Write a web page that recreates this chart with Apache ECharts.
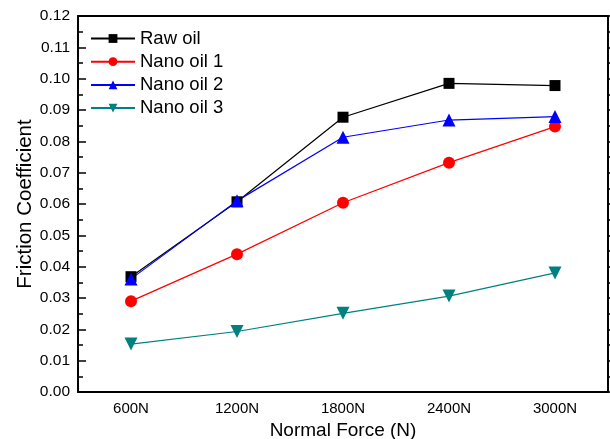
<!DOCTYPE html>
<html>
<head>
<meta charset="utf-8">
<script src="https://cdn.jsdelivr.net/npm/echarts@6/dist/echarts.min.js"></script>
<style>
  html, body { margin: 0; padding: 0; background: #fff; }
  #chart { width: 610px; height: 439px; }
</style>
</head>
<body>
<div id="chart"></div>
<script>
var categories = ['600N', '1200N', '1800N', '2400N', '3000N'];
var rawOil = [0.0368, 0.0607, 0.0877, 0.0985, 0.0978];
var nanoOil1 = [0.0290, 0.0440, 0.0604, 0.0732, 0.0847];
var nanoOil2 = [0.0361, 0.0610, 0.0813, 0.0868, 0.0879];
var nanoOil3 = [0.0153, 0.0193, 0.0251, 0.0306, 0.0380];

var FONT = '"Liberation Sans", Arial, sans-serif';

var chart = echarts.init(document.getElementById('chart'));

// 坐标轴的公共样式
function axisLine() {
    return { show: true, lineStyle: { color: '#000', width: 2 } };
}

var option = {
    animation: false,
    backgroundColor: '#fff',
    grid: { left: 78, right: 2, top: 16, bottom: 47, outerBoundsMode: 'none' },
    legend: {
        orient: 'vertical',
        left: 85,
        top: 24,
        itemWidth: 44,
        itemHeight: 11,
        itemGap: 4.2,
        textStyle: { fontFamily: FONT, fontSize: 18.5, color: '#000', lineHeight: 18 },
        data: ['Raw oil', 'Nano oil 1', 'Nano oil 2', 'Nano oil 3']
    },
    xAxis: [
        {
            type: 'category',
            data: categories,
            position: 'bottom',
            axisLine: axisLine(),
            axisTick: { inside: true, alignWithLabel: true, length: 8, lineStyle: { color: '#000', width: 1.5 } },
            axisLabel: { fontFamily: FONT, fontSize: 15, color: '#000', margin: 9 },
            splitLine: { show: false },
            name: 'Normal Force (N)',
            nameLocation: 'middle',
            nameGap: 29,
            nameMoveOverlap: false,
            nameTextStyle: { fontFamily: FONT, fontSize: 19, color: '#000' }
        },
        {
            // 类别边界处的短刻度
            type: 'category',
            data: categories,
            position: 'bottom',
            axisLine: { show: false },
            axisTick: { inside: true, length: 5, lineStyle: { color: '#000', width: 1.5 } },
            axisLabel: { show: false },
            splitLine: { show: false }
        },
        {
            type: 'category',
            data: categories,
            position: 'top',
            axisLine: axisLine(),
            axisTick: { inside: false, alignWithLabel: true, length: 4, lineStyle: { color: '#000', width: 1.5 } },
            axisLabel: { show: false },
            splitLine: { show: false }
        },
        {
            type: 'category',
            data: categories,
            position: 'top',
            axisLine: { show: false },
            axisTick: { inside: false, length: 3, lineStyle: { color: '#000', width: 1.5 } },
            axisLabel: { show: false },
            splitLine: { show: false }
        }
    ],
    yAxis: [
        {
            type: 'value',
            position: 'left',
            min: 0,
            max: 0.12,
            interval: 0.01,
            axisLine: axisLine(),
            axisTick: { show: true, inside: true, length: 8, lineStyle: { color: '#000', width: 1.5 } },
            minorTick: { show: true, splitNumber: 2, length: 5, lineStyle: { color: '#000', width: 1.5 } },
            axisLabel: {
                fontFamily: FONT, fontSize: 15.5, color: '#000', margin: 8,
                formatter: function (v) { return v.toFixed(2); }
            },
            splitLine: { show: false },
            name: 'Friction Coefficient',
            nameLocation: 'middle',
            nameGap: 42,
            nameMoveOverlap: false,
            nameTextStyle: { fontFamily: FONT, fontSize: 20.5, color: '#000' }
        },
        {
            type: 'value',
            position: 'right',
            min: 0,
            max: 0.12,
            interval: 0.01,
            axisLine: axisLine(),
            axisTick: { show: true, inside: false, length: 3, lineStyle: { color: '#000', width: 1.5 } },
            minorTick: { show: true, splitNumber: 2, length: 2, lineStyle: { color: '#000', width: 1.5 } },
            axisLabel: { show: false },
            splitLine: { show: false }
        }
    ],
    series: [
        {
            name: 'Raw oil',
            type: 'line',
            data: rawOil,
            symbol: 'rect',
            symbolSize: 11,
            itemStyle: { color: '#000000' },
            lineStyle: { color: '#000000', width: 1.2 }
        },
        {
            name: 'Nano oil 1',
            type: 'line',
            data: nanoOil1,
            symbol: 'circle',
            symbolSize: 12,
            itemStyle: { color: '#ff0000' },
            lineStyle: { color: '#ff0000', width: 1.2 }
        },
        {
            name: 'Nano oil 2',
            type: 'line',
            data: nanoOil2,
            symbol: 'triangle',
            symbolSize: 13,
            itemStyle: { color: '#0000ff' },
            lineStyle: { color: '#0000ff', width: 1.2 }
        },
        {
            name: 'Nano oil 3',
            type: 'line',
            data: nanoOil3,
            symbol: 'triangle',
            symbolRotate: 180,
            symbolSize: 13,
            itemStyle: { color: '#008080' },
            lineStyle: { color: '#008080', width: 1.2 }
        }
    ]
};

chart.setOption(option);
</script>
</body>
</html>
